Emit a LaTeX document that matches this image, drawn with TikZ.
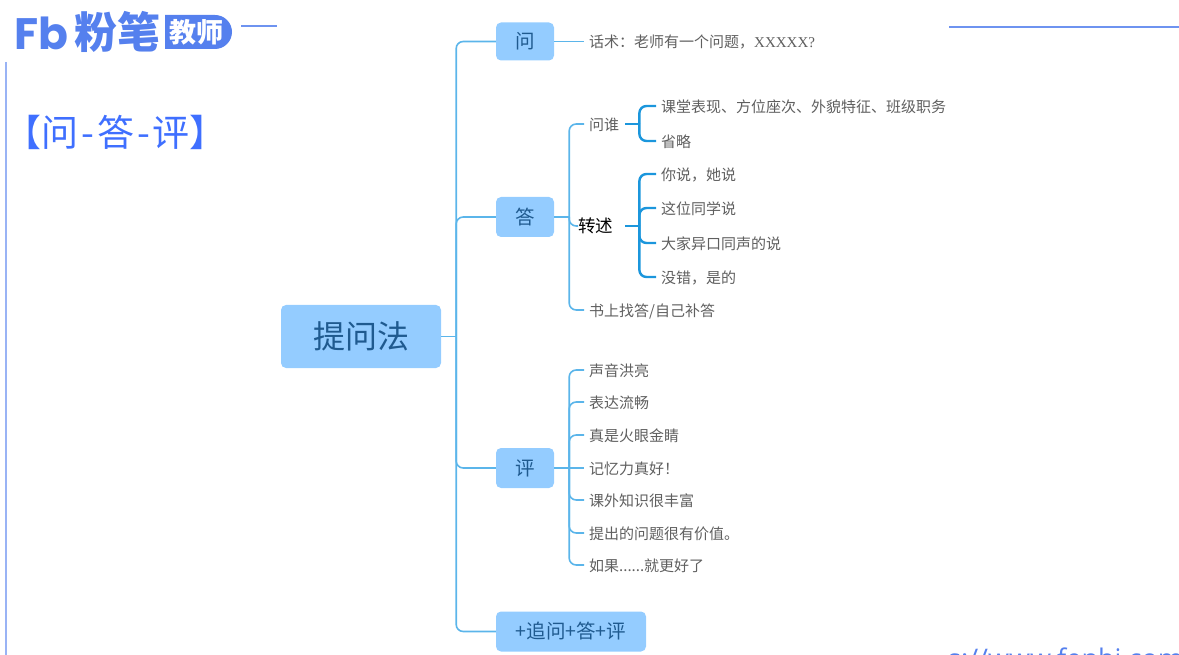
\documentclass[tikz,border=0pt]{standalone}
\usepackage{fontspec}
\setmainfont{Noto Sans CJK SC}
\newfontfamily\latinserif{Liberation Serif}
\newfontfamily\opensans{Open Sans}
\newfontfamily\logofont{Poppins}
\definecolor{linkblue}{HTML}{5BB5EA}
\definecolor{deepblue}{HTML}{1B96DC}
\definecolor{nodeblue}{HTML}{94CCFF}
\definecolor{nodetext}{HTML}{1F5A8F}
\definecolor{leaftext}{HTML}{5F5F5F}
\definecolor{brand}{HTML}{5580EE}
\definecolor{titleblue}{HTML}{3F6FFF}
\newcommand{\fsz}[1]{\fontsize{#1}{#1}\selectfont}
\newcommand{\dashk}{\kern3pt-\kern3pt}
\tikzset{
  topic/.style={fill=nodeblue,rounded corners=5pt,text=nodetext,inner sep=0pt,align=center,font=\fsz{19.5}},
  leaf/.style={anchor=west,inner sep=0pt,text=leaftext,font=\fsz{15},text height=14.5pt,text depth=1.5pt},
  link/.style={draw=linkblue,line width=1.6pt,rounded corners=7pt},
  deeplink/.style={draw=deepblue,line width=2.4pt,rounded corners=7pt},
}
\begin{document}
\begin{tikzpicture}[x=1pt,y=-1pt]
\useasboundingbox (0,0) rectangle (1179,655);
\clip (0,0) rectangle (1179,655);
% header decoration
\node[anchor=west,inner sep=0pt,text=brand,font=\logofont\bfseries\fsz{44}] (logo) at (14,33) {Fb};
\node[anchor=west,inner sep=0pt,text=brand,font=\bfseries\fsz{43}] (brandname) at (74,32) {粉笔};
\fill[brand] (165,15) -- (215,15) arc[start angle=-90,end angle=90,radius=17] -- (165,49) -- cycle;
\node[anchor=west,inner sep=0pt,text=white,font=\bfseries\fsz{27}] (brandtag) at (169,32) {教师};
\draw[brand!85,line width=2pt] (241,26) -- (277,26);
\draw[brand!85,line width=2.4pt] (949,27) -- (1179,27);
\draw[brand!60,line width=2pt] (6,62) -- (6,655);
\node[anchor=west,inner sep=0pt,text=titleblue,font=\fsz{37}] (title) at (4,132) {【问\dashk 答\dashk 评】};
\node[anchor=west,inner sep=0pt,text=brand,font=\opensans\fsz{27}] (url) at (948,658) {s://www.fenbi.com};
% topics
\node[topic,minimum width=160pt,minimum height=63pt,font=\fsz{32}] (root) at (361,336.5) {提问法};
\node[topic,minimum width=58pt,minimum height=38pt] (wen) at (525,41.5) {问};
\node[topic,minimum width=58pt,minimum height=40pt] (da) at (525,217) {答};
\node[topic,minimum width=58pt,minimum height=40pt] (ping) at (525,468) {评};
\node[topic,minimum width=150pt,minimum height=40pt] (zhui) at (571,631.5) {+追问+答+评};
% leaves
\node[leaf] (w1) at (589,41.5) {话术^^^^ff1a老师有一个问题^^^^ff0c{\latinserif XXXXX?}};
\node[leaf] (d1) at (589,124) {问谁};
\node[leaf,text=black,font=\fsz{17.5}] (d2) at (578,226) {转述};
\node[leaf] (d3) at (589,310) {书上找答/自己补答};
\node[leaf] (d11) at (661,106) {课堂表现、方位座次、外貌特征、班级职务};
\node[leaf] (d12) at (661,141) {省略};
\node[leaf] (d21) at (661,174) {你说^^^^ff0c她说};
\node[leaf] (d22) at (661,208) {这位同学说};
\node[leaf] (d23) at (661,243) {大家异口同声的说};
\node[leaf] (d24) at (661,277) {没错^^^^ff0c是的};
\node[leaf] (p1) at (589,370) {声音洪亮};
\node[leaf] (p2) at (589,402) {表达流畅};
\node[leaf] (p3) at (589,435) {真是火眼金睛};
\node[leaf] (p4) at (589,468) {记忆力真好^^^^ff01};
\node[leaf] (p5) at (589,500) {课外知识很丰富};
\node[leaf] (p6) at (589,533) {提出的问题很有价值。};
\node[leaf] (p7) at (589,565) {如果......就更好了};
% root to topics
\coordinate (rootend) at ([xshift=15pt]root.east);
\draw[link] (root.east) -- (rootend);
\foreach \t in {wen,da,ping,zhui} \draw[link] (rootend) |- (\t.west);
% 问
\draw[link] (wen.east) -- ([xshift=-5pt]w1.west);
% 答
\coordinate (daend) at ([xshift=15pt]da.east);
\draw[link] (da.east) -- (daend);
\foreach \t in {d1,d3} \draw[link] (daend) |- ([xshift=-5pt]\t.west);
\draw[link] (daend) |- (d2.west);
% 问谁 branch
\coordinate (d1a) at ([xshift=6pt]d1.east);
\coordinate (d1b) at ([xshift=20pt]d1.east);
\draw[deeplink] (d1a) -- (d1b);
\foreach \t in {d11,d12} \draw[deeplink] (d1b) |- ([xshift=-5pt]\t.west);
% 转述 branch
\coordinate (d2a) at ([xshift=12pt]d2.east);
\coordinate (d2b) at ([xshift=26pt]d2.east);
\draw[deeplink] (d2a) -- (d2b);
\foreach \t in {d21,d22,d23,d24} \draw[deeplink] (d2b) |- ([xshift=-5pt]\t.west);
% 评
\coordinate (pingend) at ([xshift=15pt]ping.east);
\draw[link] (ping.east) -- ([xshift=-5pt]p4.west);
\foreach \t in {p1,p2,p3,p5,p6,p7} \draw[link] (pingend) |- ([xshift=-5pt]\t.west);
\end{tikzpicture}
\end{document}
